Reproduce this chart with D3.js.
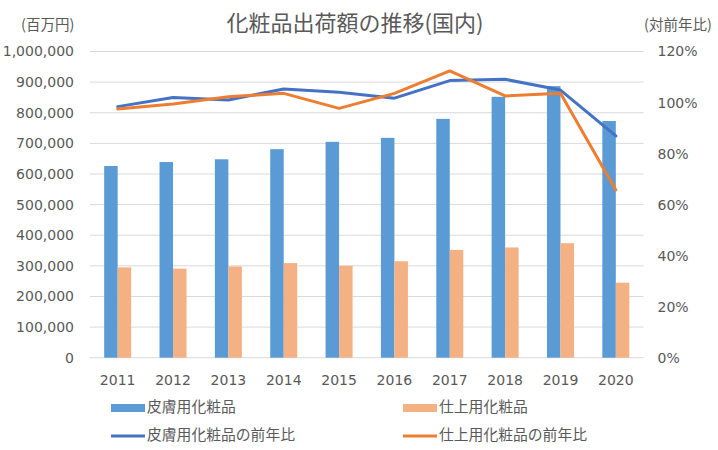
<!DOCTYPE html>
<html><head><meta charset="utf-8">
<script src="https://cdn.jsdelivr.net/npm/d3@7"></script>
<style>
html,body{margin:0;padding:0;background:#fff;}
svg{display:block;}
</style></head>
<body>
<svg id="chart" width="718" height="450"></svg>
<script>
const years = ["2011","2012","2013","2014","2015","2016","2017","2018","2019","2020"];
const skinCare = [626000, 639000, 648000, 681000, 705000, 718000, 780000, 852000, 887000, 773000];
const makeup = [295000, 291000, 298000, 309000, 300000, 315000, 352000, 360000, 374000, 245000];
const skinCareYoY = [98.4, 102.0, 101.0, 105.3, 104.0, 101.7, 108.6, 109.1, 104.9, 86.9];
const makeupYoY = [97.5, 99.4, 102.3, 103.6, 97.7, 103.6, 112.4, 102.6, 103.6, 65.7];
const leftTicks = [0,100000,200000,300000,400000,500000,600000,700000,800000,900000,1000000];
const rightTicks = [0,20,40,60,80,100,120];
const seriesNames = ["皮膚用化粧品","仕上用化粧品","皮膚用化粧品の前年比","仕上用化粧品の前年比"];
const title = "化粧品出荷額の推移(国内)";

const svg = d3.select("#chart");
const plotL = 90, plotR = 643.5, plotT = 51.5, plotB = 357.7;
const textColor = "#595959";
const numFont = "DejaVu Sans, Verdana, sans-serif";
const cjkFont = "'Noto Sans CJK JP', sans-serif";

const x = d3.scaleBand().domain(years).range([plotL, plotR]).paddingInner(0.512).paddingOuter(0.256);
const x1 = d3.scaleBand().domain([0,1]).range([0, x.bandwidth()]);
const y = d3.scaleLinear().domain([0, 1000000]).range([plotB, plotT]);
const y2 = d3.scaleLinear().domain([0, 120]).range([plotB, plotT]);

// gridlines
svg.append("g").selectAll("line").data(leftTicks).join("line")
  .attr("x1", plotL).attr("x2", plotR)
  .attr("y1", d => y(d)).attr("y2", d => y(d))
  .attr("stroke", "#d9d9d9").attr("stroke-width", 1);

// left axis
const la = svg.append("g").attr("transform", `translate(${plotL - 16},0)`)
  .call(d3.axisLeft(y).tickValues(leftTicks).tickSize(0).tickPadding(0).tickFormat(d3.format(",")));
la.select(".domain").remove();
la.selectAll("text").attr("font-family", numFont).attr("font-size", 14).attr("fill", textColor);

// right axis
const ra = svg.append("g").attr("transform", `translate(${plotR + 14},0)`)
  .call(d3.axisRight(y2).tickValues(rightTicks).tickSize(0).tickPadding(0).tickFormat(d => d + "%"));
ra.select(".domain").remove();
ra.selectAll("text").attr("font-family", numFont).attr("font-size", 14).attr("fill", textColor);

// x axis
const xa = svg.append("g").attr("transform", `translate(0,${plotB + 17})`)
  .call(d3.axisBottom(x).tickSize(0).tickPadding(0));
xa.select(".domain").remove();
xa.selectAll("text").attr("font-family", numFont).attr("font-size", 14).attr("fill", textColor).attr("dy", "0.71em");

// bars
const barColors = ["#5B9BD5", "#F4B183"];
[skinCare, makeup].forEach((vals, si) => {
  svg.append("g").selectAll("rect").data(vals).join("rect")
    .attr("x", (d, i) => x(years[i]) + x1(si))
    .attr("width", x1.bandwidth())
    .attr("y", d => y(d))
    .attr("height", d => plotB - y(d))
    .attr("fill", barColors[si]);
});

// lines
const lineColors = ["#4472C4", "#ED7D31"];
const line = d3.line().x((d, i) => x(years[i]) + x.bandwidth() / 2).y(d => y2(d));
[skinCareYoY, makeupYoY].forEach((vals, si) => {
  svg.append("path").datum(vals).attr("d", line)
    .attr("fill", "none").attr("stroke", lineColors[si]).attr("stroke-width", 3)
    .attr("stroke-linejoin", "round").attr("stroke-linecap", "round");
});

// title and axis titles
svg.append("text").attr("x", 355).attr("y", 31).attr("text-anchor", "middle")
  .attr("font-family", cjkFont).attr("font-size", 22).attr("fill", textColor).text(title);
svg.append("text").attr("x", 21).attr("y", 26).attr("dominant-baseline", "middle")
  .attr("font-family", cjkFont).attr("font-size", 14.5).attr("fill", textColor).text("(百万円)");
svg.append("text").attr("x", 644).attr("y", 26).attr("dominant-baseline", "middle")
  .attr("font-family", cjkFont).attr("font-size", 14.5).attr("fill", textColor).text("(対前年比)");

// legend
const legend = [
  {name: seriesNames[0], type: "rect", color: barColors[0], lx: 111, ly: 408},
  {name: seriesNames[1], type: "rect", color: barColors[1], lx: 403, ly: 408},
  {name: seriesNames[2], type: "line", color: lineColors[0], lx: 111, ly: 436},
  {name: seriesNames[3], type: "line", color: lineColors[1], lx: 403, ly: 436}
];
const lg = svg.append("g").selectAll("g").data(legend).join("g")
  .attr("transform", d => `translate(${d.lx},${d.ly})`);
lg.filter(d => d.type === "rect").append("rect")
  .attr("x", 0).attr("y", -4).attr("width", 34).attr("height", 8).attr("fill", d => d.color);
lg.filter(d => d.type === "line").append("line")
  .attr("x1", 0).attr("x2", 34).attr("y1", 0).attr("y2", 0)
  .attr("stroke", d => d.color).attr("stroke-width", 3);
lg.append("text").attr("x", 36).attr("y", 0).attr("dominant-baseline", "middle")
  .attr("font-family", cjkFont).attr("font-size", 14.8).attr("fill", textColor)
  .text(d => d.name);
</script>
</body></html>
